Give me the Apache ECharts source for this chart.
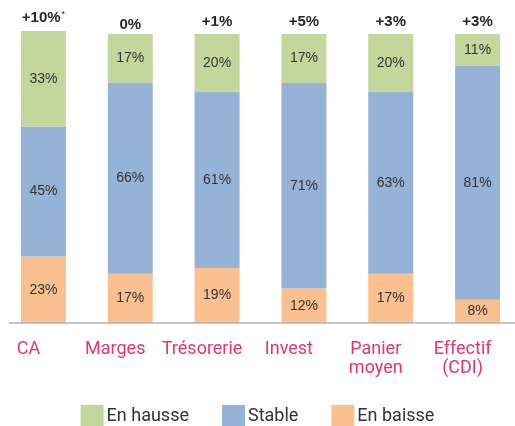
<!DOCTYPE html>
<html>
<head>
<meta charset="utf-8">
<script src="https://cdn.jsdelivr.net/npm/echarts@6/dist/echarts.min.js"></script>
<style>
html,body{margin:0;padding:0;background:#fff;}
#chart{width:515px;height:426px;}
</style>
</head>
<body>
<div id="chart"></div>
<script>
var categories = ['CA', 'Marges', 'Trésorerie', 'Invest', 'Panier\nmoyen', 'Effectif\n(CDI)'];
var enBaisse = [23, 17, 19, 12, 17, 8];
var stable   = [45, 66, 61, 71, 63, 81];
var enHausse = [33, 17, 20, 17, 20, 11];
var soldes   = ['+10%', '0%', '+1%', '+5%', '+3%', '+3%'];
var soldeNotes = ['*', '', '', '', '', ''];

var chart = echarts.init(document.getElementById('chart'), null, {renderer: 'canvas'});

var innerLabel = {
  show: true,
  position: 'inside',
  formatter: '{c}%',
  fontFamily: 'Liberation Sans',
  fontSize: 14,
  color: '#333333'
};

var topData = enHausse.map(function (v, i) {
  return {
    value: 0,
    label: {
      distance: i === 1 ? 2 : 5
    }
  };
});

var option = {
  animation: false,
  grid: {left: 0, right: -6, top: 31, bottom: 103, containLabel: false, outerBoundsMode: 'none'},
  xAxis: {
    type: 'category',
    data: categories,
    axisLine: {show: false},
    axisTick: {show: false},
    axisLabel: {
      interval: 0,
      margin: 17,
      fontFamily: 'Roboto',
      fontSize: 18,
      lineHeight: 19,
      color: '#e2366e',
      padding: [0, 30, 0, 0]
    }
  },
  yAxis: {
    type: 'value',
    min: 0,
    max: 101,
    show: false,
    splitLine: {show: false}
  },
  legend: {
    bottom: -7,
    left: 'center',
    icon: 'rect',
    itemWidth: 23,
    itemHeight: 23,
    itemGap: 33,
    textStyle: {fontFamily: 'Roboto', fontSize: 18, color: '#333333', padding: [0, 0, 0, -2]},
    data: ['En hausse', 'Stable', 'En baisse']
  },
  graphic: [{
    type: 'line',
    shape: {x1: 9, y1: 323, x2: 515, y2: 323},
    style: {stroke: '#b3b3b3', lineWidth: 1.3},
    z: 100
  }],
  series: [
    {
      name: 'En baisse', type: 'bar', stack: 'total', barWidth: 45,
      itemStyle: {color: '#fac090'},
      label: innerLabel,
      data: enBaisse
    },
    {
      name: 'Stable', type: 'bar', stack: 'total', barWidth: 45,
      itemStyle: {color: '#95b3d7'},
      label: innerLabel,
      data: stable
    },
    {
      name: 'En hausse', type: 'bar', stack: 'total', barWidth: 45,
      itemStyle: {color: '#c3d69b'},
      label: innerLabel,
      data: enHausse
    },
    {
      name: 'Solde', type: 'bar', stack: 'total', barWidth: 45,
      itemStyle: {color: 'transparent'},
      legendHoverLink: false,
      label: {
        show: true,
        position: 'top',
        formatter: function (p) {
          var note = soldeNotes[p.dataIndex];
          return '{m|' + soldes[p.dataIndex] + '}' + (note ? '{s|' + note + '}' : '');
        },
        rich: {
          m: {fontFamily: 'Liberation Sans', fontWeight: 'bold', fontSize: 15, color: '#262626'},
          s: {fontFamily: 'Liberation Sans', fontSize: 9, color: '#262626', verticalAlign: 'top', padding: [0, 0, 7, 1]}
        }
      },
      data: topData
    }
  ]
};
chart.setOption(option);
</script>
</body>
</html>
